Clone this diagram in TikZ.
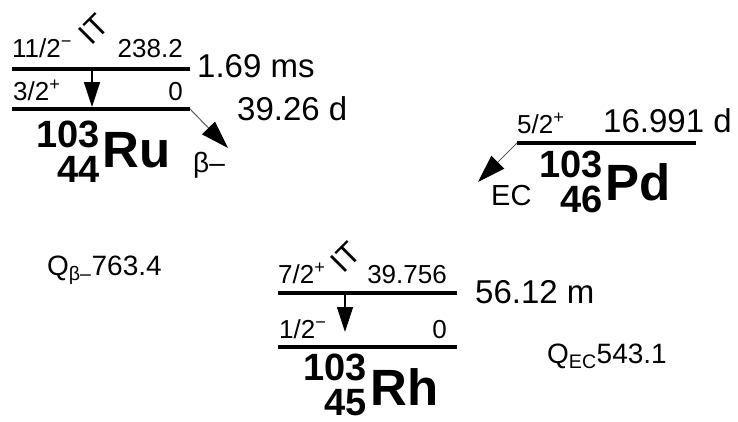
\documentclass[tikz,border=0pt]{standalone}
\usepackage{fontspec}
\setmainfont{Liberation Sans}
\usetikzlibrary{arrows.meta}
\begin{document}
\begin{tikzpicture}[x=1pt,y=-1pt,
  level/.style={line width=4.5pt},
  lbl/.style={inner sep=0pt,font=\fontsize{26}{26}\selectfont},
  itlbl/.style={inner sep=0pt,rotate=45,font=\fontsize{31}{31}\selectfont},
  big/.style={inner sep=0pt,anchor=base west,font=\fontsize{33}{33}\selectfont},
  qlbl/.style={inner sep=0pt,anchor=base west,font=\fontsize{28}{28}\selectfont},
  nucnum/.style={inner sep=0pt,text depth=0pt,anchor=base east,font=\bfseries\fontsize{38}{38}\selectfont},
  elem/.style={inner sep=0pt,text depth=0pt,anchor=base west,font=\bfseries\fontsize{51}{51}\selectfont},
  itarrow/.style={line width=1.2pt,-{Triangle[length=25pt,width=16pt]}},
  decay/.style={line width=1pt,draw=black!65,-{Triangle[length=28pt,width=18pt,color=black]}},
]
\useasboundingbox (0,0) rectangle (738,421);

% ---------- 103Ru ----------
\coordinate (ruAL) at (12,69);  \coordinate (ruAR) at (190,69);
\coordinate (ruBL) at (12,109); \coordinate (ruBR) at (190,109);
\draw[level] (ruAL) -- (ruAR);
\draw[level] (ruBL) -- (ruBR);
\node[lbl,anchor=base west] (ruAspin) at (12,57) {11/2\textsuperscript{−}};
\node[lbl,anchor=base east] (ruAen) at (183,57) {238.2};
\node[itlbl] (ruIT) at (94,29) {IT};
\node[big] (ruAhl) at (197,77) {1.69 ms};
\node[lbl,anchor=base west] (ruBspin) at (13,100) {3/2\textsuperscript{+}};
\node[lbl,anchor=base east] (ruBen) at (183,100) {0};
\node[big] (ruBhl) at (237,120) {39.26 d};
\coordinate (ruITa) at (92,69); \coordinate (ruITb) at (92,107);
\draw[itarrow] (ruITa) -- (ruITb);
\coordinate (ruBeta) at (228,148);
\draw[decay] (ruBR) -- (ruBeta);
\node[qlbl] (ruBetaLbl) at (193,172) {β–};
\node[nucnum] (ruA) at (100,147) {103};
\node[nucnum] (ruZ) at (100,182) {44};
\node[elem] (ruSym) at (102,167) {Ru};
\node[qlbl] (qbeta) at (47,275) {Q\textsubscript{β–}763.4};

% ---------- 103Pd ----------
\coordinate (pdL) at (517,143); \coordinate (pdR) at (696,143);
\draw[level] (pdL) -- (pdR);
\node[lbl,anchor=base west] (pdspin) at (517,133) {5/2\textsuperscript{+}};
\node[big] (pdhl) at (603,132) {16.991 d};
\coordinate (pdEC) at (478,182);
\draw[decay] (pdL) -- (pdEC);
\node[qlbl,font=\fontsize{29}{29}\selectfont] (pdECLbl) at (491,205) {EC};
\node[nucnum] (pdA) at (603,177) {103};
\node[nucnum] (pdZ) at (603,212) {46};
\node[elem] (pdSym) at (605,200) {Pd};

% ---------- 103Rh ----------
\coordinate (rhAL) at (278,293); \coordinate (rhAR) at (457,293);
\coordinate (rhBL) at (278,347); \coordinate (rhBR) at (457,347);
\draw[level] (rhAL) -- (rhAR);
\draw[level] (rhBL) -- (rhBR);
\node[lbl,anchor=base west] (rhAspin) at (278,283) {7/2\textsuperscript{+}};
\node[lbl,anchor=base east] (rhAen) at (447,283) {39.756};
\node[itlbl] (rhIT) at (346,257) {IT};
\node[big] (rhAhl) at (475,303) {56.12 m};
\node[lbl,anchor=base west] (rhBspin) at (279,338) {1/2\textsuperscript{−}};
\node[lbl,anchor=base east] (rhBen) at (447,338) {0};
\coordinate (rhITa) at (345,293); \coordinate (rhITb) at (345,332);
\draw[itarrow] (rhITa) -- (rhITb);
\node[nucnum] (rhA) at (367,380) {103};
\node[nucnum] (rhZ) at (367,415) {45};
\node[elem] (rhSym) at (370,405) {Rh};
\node[qlbl] (qec) at (547,363) {Q\textsubscript{EC}543.1};
\end{tikzpicture}
\end{document}
